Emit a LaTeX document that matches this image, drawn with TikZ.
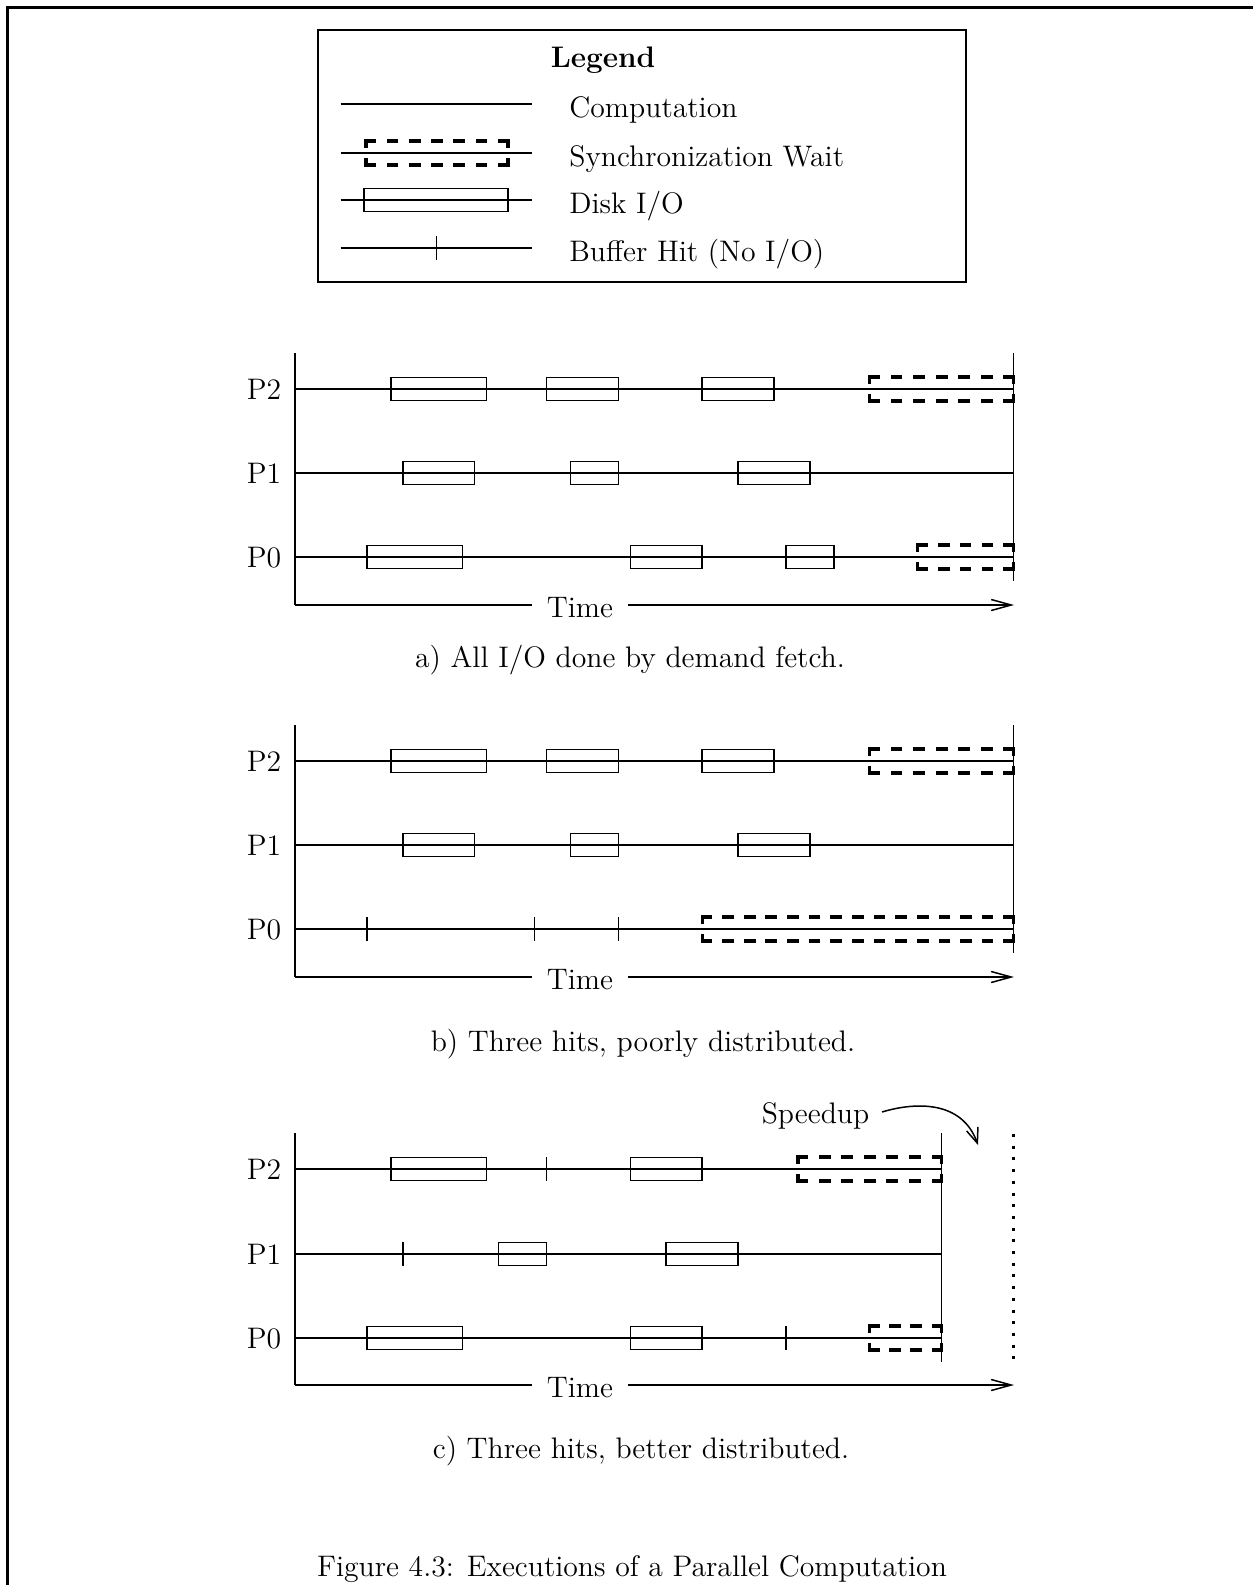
\documentclass[tikz,border=0pt]{standalone}
\usetikzlibrary{arrows.meta}
\tikzset{
  ln/.style={line width=0.75pt},
  io/.style={line width=0.75pt},
  syncln/.style={line width=1.6pt, line cap=rect},
  txt/.style={inner sep=0pt, text height=10.1pt, text depth=0pt, font=\fontsize{14.85}{17.5}\selectfont},
  frameln/.style={line width=1.5pt},
  barb/.style={-{Straight Barb[length=10pt,width=5.5pt]}}
}
% dashed segment that starts and ends with a dash: x1,y1,x2,y2,dash length (px)
\newcommand\dashSeg[5]{%
  \pgfmathsetmacro\segL{veclen((#3)-(#1),(#4)-(#2))}%
  \pgfmathtruncatemacro\segN{max(2,round((\segL+13)/((#5)+13)))}%
  \pgfmathsetmacro\segG{(\segL-\segN*(#5))/(\segN-1)*0.5}%
  \pgfmathsetmacro\segD{(#5)*0.5}%
  \draw[syncln, dash pattern=on \segD pt off \segG pt] (#1,#2) -- (#3,#4);}
\newcommand\ioBox[3]{\draw[io] ({295+(#1)*23.95},{#3-11.5}) rectangle ({295+(#2)*23.95},{#3+11.5});}
\newcommand\syncBox[3]{%
  \pgfmathsetmacro\sbA{295+(#1)*23.95}%
  \pgfmathsetmacro\sbB{295+(#2)*23.95}%
  \pgfmathsetmacro\sbT{#3-12}%
  \pgfmathsetmacro\sbU{#3+12}%
  \dashSeg{\sbA}{\sbT}{\sbB}{\sbT}{8.5}%
  \dashSeg{\sbA}{\sbU}{\sbB}{\sbU}{8.5}%
  \dashSeg{\sbA}{\sbT}{\sbA}{\sbU}{5}%
  \dashSeg{\sbB}{\sbT}{\sbB}{\sbU}{5}}
\newcommand\hitTick[2]{\draw[ln] ({295+(#1)*23.95},{#2-12}) -- ({295+(#1)*23.95},{#2+12});}
\newcommand\panel[6]{%
  \node[txt] (#1l2) at (264,#2) {P2};
  \node[txt] (#1l1) at (264,#3) {P1};
  \node[txt] (#1l0) at (264,#4) {P0};
  \coordinate (#1top) at (295,{#2-36});
  \coordinate (#1o) at (295,#5);
  \coordinate (#1end) at (1014,#5);
  \coordinate (#1rt) at ({295+(#6)*23.95},{#2-36});
  \coordinate (#1rb) at ({295+(#6)*23.95},{#4+24});
  \draw[ln] (#1top) -- (#1o);
  \draw[ln] (#1rt) -- (#1rb);
  \foreach \yy in {#2,#3,#4} \draw[ln] (295,\yy) -- ({295+(#6)*23.95},\yy);
  \node[txt, inner xsep=7pt] (#1time) at (580,{#5+2}) {Time};
  \draw[ln] (#1o) -- (#1o -| #1time.west);
  \draw[ln, barb] (#1o -| #1time.east) -- (#1end);
}
\begin{document}
\begin{tikzpicture}[x=0.5pt,y=-0.5pt]
\useasboundingbox (0,0) rectangle (1253,1585);
% page frame
\coordinate (fc) at (7.5,7.5);
\coordinate (fr) at (1253,7.5);
\coordinate (fb) at (7.5,1585);
\draw[frameln] (fr) -- (fc) -- (fb);

% legend
\draw[ln] (318,30) rectangle (966,282);
\node[txt, font=\fontsize{14.85}{17.5}\selectfont\bfseries] (leg) at (603,57) {Legend};
\draw[ln] (340.5,104) -- (531.5,104);
\node[txt, anchor=west] (lcomp) at (569,107) {Computation};
\draw[ln] (340.5,153) -- (531.5,153);
\syncBox{2.965}{8.894}{153}
\node[txt, anchor=west] (lsync) at (569,156) {Synchronization Wait};
\draw[ln] (340.5,200) -- (531.5,200);
\ioBox{2.881}{8.894}{200}
\node[txt, anchor=west] (ldisk) at (569,203) {Disk I/O};
\draw[ln] (340.5,248) -- (531.5,248);
\hitTick{5.908}{248}
\node[txt, anchor=west] (lhit) at (569,251) {Buffer Hit (No I/O)};

% panel a
\panel{a}{389}{473}{557}{605}{30}
\ioBox{4}{8}{389}\ioBox{10.5}{13.5}{389}\ioBox{17}{20}{389}\syncBox{24}{30}{389}
\ioBox{4.5}{7.5}{473}\ioBox{11.5}{13.5}{473}\ioBox{18.5}{21.5}{473}
\ioBox{3}{7}{557}\ioBox{14}{17}{557}\ioBox{20.5}{22.5}{557}\syncBox{26}{30}{557}
\node[txt] (capa) at (630,657) {a) All I/O done by demand fetch.};

% panel b
\panel{b}{761}{845}{929}{977}{30}
\ioBox{4}{8}{761}\ioBox{10.5}{13.5}{761}\ioBox{17}{20}{761}\syncBox{24}{30}{761}
\ioBox{4.5}{7.5}{845}\ioBox{11.5}{13.5}{845}\ioBox{18.5}{21.5}{845}
\hitTick{3}{929}\hitTick{10}{929}\hitTick{13.5}{929}\syncBox{17}{30}{929}
\node[txt] (capb) at (643,1041) {b) Three hits, poorly distributed.};

% panel c
\panel{c}{1169}{1254}{1338}{1385}{27}
\ioBox{4}{8}{1169}\hitTick{10.5}{1169}\ioBox{14}{17}{1169}\syncBox{21}{27}{1169}
\hitTick{4.5}{1254}\ioBox{8.5}{10.5}{1254}\ioBox{15.5}{18.5}{1254}
\ioBox{3}{7}{1338}\ioBox{14}{17}{1338}\hitTick{20.5}{1338}\syncBox{24}{27}{1338}
\coordinate (dt) at (1013.5,1134);
\coordinate (db) at (1013.5,1362);
\draw[line width=1.5pt, dash pattern=on 1.5pt off 4.35pt] (dt) -- (db);
\node[txt] (spd) at (815.5,1113) {Speedup};
\coordinate (sa) at (882,1112);
\coordinate (sb) at (978,1145);
\draw[ln, -{Straight Barb[length=7.5pt,width=6pt]}] (sa) .. controls (915,1102) and (962,1100) .. (sb);
\node[txt] (capc) at (641,1448) {c) Three hits, better distributed.};

% figure caption
\node[txt] (fig) at (632,1566) {Figure 4.3: Executions of a Parallel Computation};
\end{tikzpicture}
\end{document}
